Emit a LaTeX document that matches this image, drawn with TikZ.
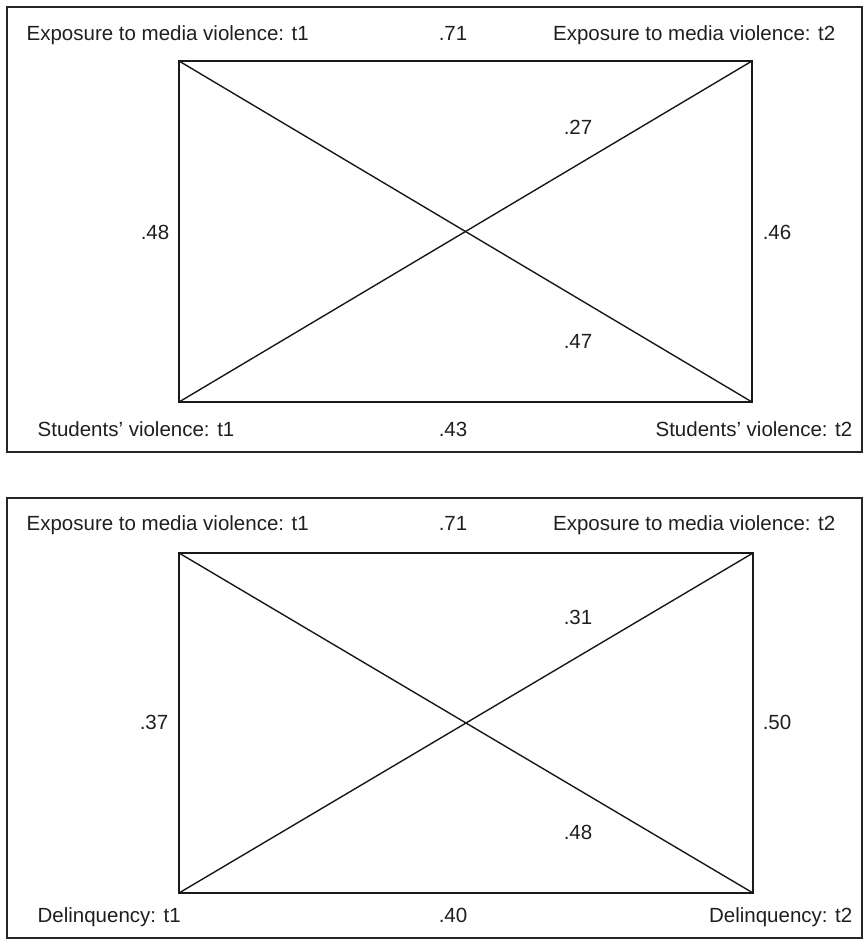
\documentclass[tikz,border=0pt]{standalone}
\usepackage{fontspec}
\setmainfont{Liberation Sans}
\begin{document}
\begin{tikzpicture}[x=1pt,y=-1pt,line width=1.3pt,
  lbl/.style={font=\fontsize{20.5}{23}\selectfont,inner sep=0pt,text=black!88},
  frame/.style={draw=black!85,line width=1.3pt},
  edge/.style={draw=black!90,line width=1.4pt}]
\useasboundingbox (0,0) rectangle (865,940);
% ---------- panel 1 ----------
\draw[frame] (7,7) rectangle (862,452);
\coordinate (a1) at (179,61);
\coordinate (b1) at (752,61);
\coordinate (c1) at (179,402);
\coordinate (d1) at (752,402);
\draw[edge] (a1) -- (b1) -- (d1) -- (c1) -- cycle;
\draw[edge] (a1) -- (d1);
\draw[edge] (c1) -- (b1);
\node[lbl,anchor=base west] (e1) at (26,40) {Exposure to media violence: t1};
\node[lbl,anchor=base] (n71a) at (453,40) {.71};
\node[lbl,anchor=base east] (e2) at (836,40) {Exposure to media violence: t2};
\node[lbl,anchor=base] (n27) at (578,134) {.27};
\node[lbl,anchor=base] (n48a) at (155,239) {.48};
\node[lbl,anchor=base] (n46) at (777,239) {.46};
\node[lbl,anchor=base] (n47) at (578,348) {.47};
\node[lbl,anchor=base west] (s1) at (37,436) {Students’ violence: t1};
\node[lbl,anchor=base] (n43) at (453,436) {.43};
\node[lbl,anchor=base east] (s2) at (853,436) {Students’ violence: t2};
% ---------- panel 2 ----------
\draw[frame] (7,498) rectangle (862,938);
\coordinate (a2) at (179,553);
\coordinate (b2) at (753,553);
\coordinate (c2) at (179,893);
\coordinate (d2) at (753,893);
\draw[edge] (a2) -- (b2) -- (d2) -- (c2) -- cycle;
\draw[edge] (a2) -- (d2);
\draw[edge] (c2) -- (b2);
\node[lbl,anchor=base west] (f1) at (26,530) {Exposure to media violence: t1};
\node[lbl,anchor=base] (n71b) at (453,530) {.71};
\node[lbl,anchor=base east] (f2) at (836,530) {Exposure to media violence: t2};
\node[lbl,anchor=base] (n31) at (578,624) {.31};
\node[lbl,anchor=base] (n37) at (154,729) {.37};
\node[lbl,anchor=base] (n50) at (777,729) {.50};
\node[lbl,anchor=base] (n48b) at (578,839) {.48};
\node[lbl,anchor=base west] (g1) at (37,922) {Delinquency: t1};
\node[lbl,anchor=base] (n40) at (453,922) {.40};
\node[lbl,anchor=base east] (g2) at (853,922) {Delinquency: t2};
\end{tikzpicture}
\end{document}
